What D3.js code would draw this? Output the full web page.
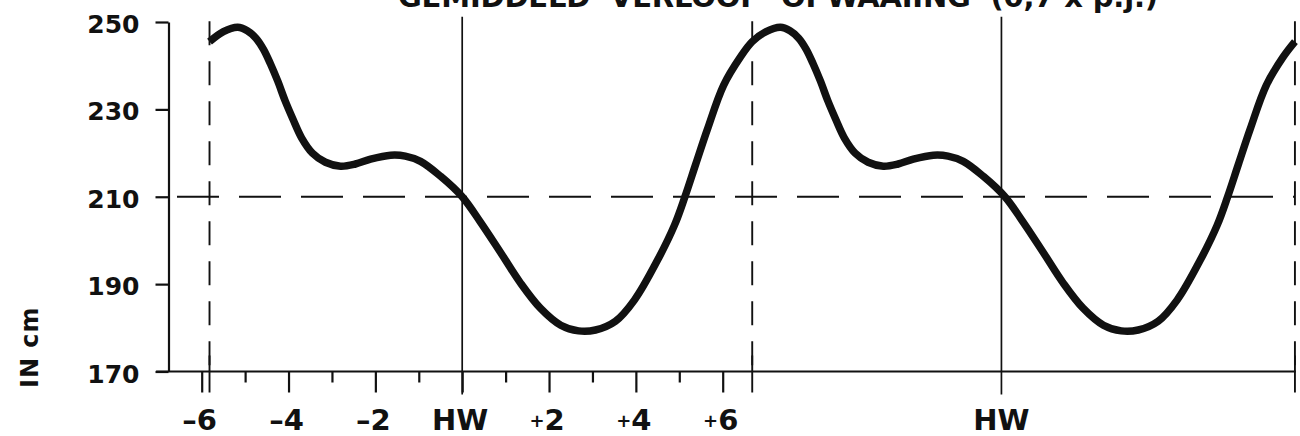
<!DOCTYPE html>
<html>
<head>
<meta charset="utf-8">
<script src="https://cdn.jsdelivr.net/npm/d3@7"></script>
<style>
  html, body { margin: 0; padding: 0; background: #fff; }
  svg { display: block; }
  text { font-family: "DejaVu Sans", sans-serif; fill: #111; font-weight: bold; }
</style>
</head>
<body>
<svg id="chart" width="1300" height="436"></svg>
<script>
// Mean water level over one tidal cycle (hours relative to high water, cm)
const cycleHours = [-5.82, -5.50, -5.17, -4.95, -4.75, -4.58, -4.42, -4.25, -4.08, -3.90,
  -3.70, -3.45, -3.15, -2.80, -2.46, -2.11, -1.65, -1.31, -0.96, -0.50,
  0.00, 0.42, 0.88, 1.34, 1.80, 2.27, 2.68, 3.07, 3.53, 3.97,
  4.50, 4.89, 5.13, 5.38, 5.65, 6.02, 6.41, 6.68];
const cycleLevel = [245.5, 247.8, 248.8, 248.0, 246.3, 243.8, 240.5, 236.5, 232.0, 227.8,
  223.5, 220.0, 217.9, 217.0, 217.5, 218.6, 219.5, 219.3, 218.1, 214.7,
  210.0, 204.2, 197.3, 190.3, 184.5, 180.6, 179.3, 179.5, 181.5, 186.4,
  195.5, 203.5, 210.0, 217.5, 225.5, 235.5, 242.0, 245.5];
// The cycle is shown twice, one tidal period apart
const cycleOffsets = [0, 12.5];
// High-water moments and cycle boundaries (hours)
const highWaterHours = [0, 12.42];
const cycleBoundHours = [-5.82, 6.68, 19.18];
// Reference level (cm)
const refLevel = 210;
// Axis ticks and labels
const yTicks = [170, 190, 210, 230, 250];
const xMajorHours = [-6, -4, -2, 0, 2, 4, 6];
const xMinorHours = [-5, -3, -1, 1, 3, 5];
const xMajorLabels = ["–6", "–4", "–2", "HW", "+2", "+4", "+6"];
const titleText = "GEMIDDELD  VERLOOP  OPWAAIING  (0,7 x p.j.)";
const yLabelText = "IN cm";

const svg = d3.select("#chart");
const ink = "#111";

const x = d3.scaleLinear().domain([-6, 6]).range([201.7, 722.7]);
const y = d3.scaleLinear().domain([170, 250]).range([371.5, 22]);
const axisX = 168.5;
const axisY = y(170);

// Title (partly above the top edge)
svg.append("text")
  .attr("x", 398).attr("y", 7)
  .attr("textLength", 760).attr("lengthAdjust", "spacing")
  .style("white-space", "pre")
  .attr("font-size", 29)
  .text(titleText);

// Y axis
const yAxis = d3.axisLeft(y).tickValues(yTicks).tickSize(13).tickSizeOuter(0).tickPadding(16)
  .tickFormat(d3.format("d"));
const gy = svg.append("g").attr("transform", `translate(${axisX},0)`).call(yAxis);
gy.select(".domain").attr("stroke", ink).attr("stroke-width", 2.2);
gy.selectAll(".tick line").attr("stroke", ink).attr("stroke-width", 2.2);
gy.selectAll(".tick text").attr("font-size", 25).attr("font-family", "DejaVu Sans")
  .attr("font-weight", "bold").attr("fill", ink).attr("dy", "0.42em");

// Y axis title
svg.append("text")
  .attr("transform", `translate(38,388) rotate(-90)`)
  .attr("font-size", 24)
  .attr("letter-spacing", 1)
  .text(yLabelText);

// X axis baseline
svg.append("line")
  .attr("x1", x(-7.05)).attr("x2", x(19.2))
  .attr("y1", axisY).attr("y2", axisY)
  .attr("stroke", ink).attr("stroke-width", 2.2);

// Major hour ticks with labels (baseline placed explicitly, small plus signs)
const labelBaseline = 58;
const xMajor = d3.axisBottom(x).tickValues(xMajorHours).tickSize(21).tickSizeOuter(0)
  .tickFormat((d, i) => xMajorLabels[i]);
const gx = svg.append("g").attr("transform", `translate(0,${axisY})`).call(xMajor);
gx.select(".domain").remove();
gx.selectAll(".tick line").attr("stroke", ink).attr("stroke-width", 2.2);
gx.selectAll(".tick text").attr("font-size", 29).attr("font-family", "DejaVu Sans")
  .attr("font-weight", "bold").attr("fill", ink)
  .attr("y", labelBaseline).attr("dy", null).attr("dx", -2.5)
  .each(function () {
    const t = d3.select(this);
    const s = t.text();
    if (s.startsWith("+")) {
      t.text(null);
      t.append("tspan").attr("font-size", 18).attr("dy", -3).text("+");
      t.append("tspan").attr("dy", 3).text(s.slice(1));
    }
  });

// Minor hour ticks
const xMinor = d3.axisBottom(x).tickValues(xMinorHours).tickSize(11).tickSizeOuter(0)
  .tickFormat("");
const gxm = svg.append("g").attr("transform", `translate(0,${axisY})`).call(xMinor);
gxm.select(".domain").remove();
gxm.selectAll(".tick line").attr("stroke", ink).attr("stroke-width", 2.2);

// High-water lines and second HW label
svg.selectAll("line.hw").data(highWaterHours).join("line")
  .attr("class", "hw")
  .attr("x1", d => x(d)).attr("x2", d => x(d))
  .attr("y1", y(251.2)).attr("y2", axisY + 23)
  .attr("stroke", ink).attr("stroke-width", 1.7);
svg.append("text")
  .attr("x", x(highWaterHours[1])).attr("y", axisY + labelBaseline)
  .attr("text-anchor", "middle").attr("font-size", 29)
  .text("HW");

// Cycle boundaries: dashed verticals with a solid stub through the axis
svg.selectAll("line.bound").data(cycleBoundHours).join("line")
  .attr("class", "bound")
  .attr("x1", d => x(d)).attr("x2", d => x(d))
  .attr("y1", y(250.2)).attr("y2", axisY)
  .attr("stroke", ink).attr("stroke-width", 1.9)
  .attr("stroke-dasharray", "24,16");
svg.selectAll("line.stub").data(cycleBoundHours).join("line")
  .attr("class", "stub")
  .attr("x1", d => x(d)).attr("x2", d => x(d))
  .attr("y1", axisY - 16).attr("y2", axisY + 21)
  .attr("stroke", ink).attr("stroke-width", 1.9);

// Reference level dashed line
svg.append("line")
  .attr("x1", 177).attr("x2", x(cycleBoundHours[2]))
  .attr("y1", y(refLevel)).attr("y2", y(refLevel))
  .attr("stroke", ink).attr("stroke-width", 1.9)
  .attr("stroke-dasharray", "42,20");

// Water level curve
const pts = [];
cycleOffsets.forEach((off, k) => {
  cycleHours.forEach((h, i) => {
    if (k > 0 && i === 0) return;
    pts.push([h + off, cycleLevel[i]]);
  });
});
const line = d3.line().x(d => x(d[0])).y(d => y(d[1])).curve(d3.curveCatmullRom.alpha(0.5));
svg.append("path")
  .attr("d", line(pts))
  .attr("fill", "none").attr("stroke", ink)
  .attr("stroke-width", 7.5).attr("stroke-linecap", "butt").attr("stroke-linejoin", "round");
</script>
</body>
</html>
